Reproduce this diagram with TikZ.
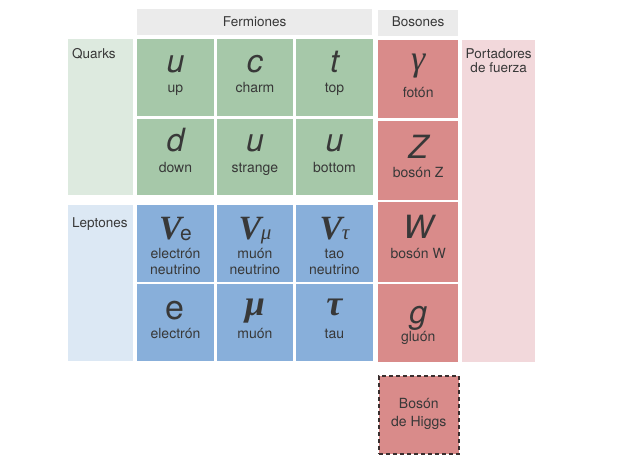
\documentclass[tikz,border=0pt]{standalone}
\usepackage{fontspec}
\setmainfont{TeX Gyre Heros}
\newfontfamily\grkfont{Liberation Serif}
\usetikzlibrary{calc}
\definecolor{qgreen}{HTML}{A6C8A9}
\definecolor{qband}{HTML}{DDEADF}
\definecolor{lblue}{HTML}{88AFDA}
\definecolor{lband}{HTML}{DCE8F4}
\definecolor{bred}{HTML}{D98B8A}
\definecolor{bband}{HTML}{F2D8DB}
\definecolor{hgray}{HTML}{EBEBEB}
\definecolor{txt}{HTML}{383838}
\definecolor{dashc}{HTML}{3A2E2E}
\tikzset{
  box/.style={draw=none, inner sep=0pt, anchor=north west},
  gcell/.style={box, fill=qgreen, minimum width=76.5pt, minimum height=76.5pt},
  bcell/.style={box, fill=lblue, minimum width=76.5pt, minimum height=77pt},
  rcell/.style={box, fill=bred, minimum width=80pt, minimum height=78pt},
  sym/.style={inner sep=0pt, anchor=base, text=txt, font=\fontsize{32}{34}\selectfont\itshape},
  gsym/.style={inner sep=0pt, anchor=base, text=txt, font=\fontsize{34}{36}\selectfont\grkfont\bfseries\itshape},
  lab/.style={inner sep=0pt, anchor=base, text=txt, font=\fontsize{14}{16}\selectfont},
  head/.style={inner sep=0pt, anchor=base, text=txt, font=\fontsize{13.5}{15}\selectfont},
}
\begin{document}
\begin{tikzpicture}[x=1pt,y=-1pt]
\useasboundingbox (0,0) rectangle (630,471);
% headers
\node[box, fill=hgray, minimum width=235pt, minimum height=26pt] (fh) at (137,9) {};
\node[head] (fht) at ($(fh.north)+(0,18)$) {Fermiones};
\node[box, fill=hgray, minimum width=80pt, minimum height=26pt] (bh) at (378,10) {};
\node[head] (bht) at ($(bh.north)+(0,17)$) {Bosones};
% bands
\node[box, fill=qband, minimum width=65pt, minimum height=156pt] (qb) at (68,39) {};
\node[head, anchor=base west] (qbt) at (72,58) {Quarks};
\node[box, fill=lband, minimum width=65pt, minimum height=156pt] (lb) at (68,205) {};
\node[head, anchor=base west] (lbt) at (72,227) {Leptones};
\node[box, fill=bband, minimum width=73pt, minimum height=322pt] (pb) at (462,40) {};
\node[head] (pbt1) at ($(pb.north)+(0,18.5)$) {Portadores};
\node[head] (pbt2) at ($(pb.north)+(0,32)$) {de fuerza};
% quarks
\node[gcell] (u) at (137,39) {};
\node[sym] (us) at ($(u.north)+(0,33)$) {u};
\node[lab] (ul) at ($(u.north)+(0,53)$) {up};
\node[gcell] (c) at (216.5,39) {};
\node[sym] (cs) at ($(c.north)+(0,33)$) {c};
\node[lab] (cl) at ($(c.north)+(0,53)$) {charm};
\node[gcell] (t) at (296,39) {};
\node[sym] (ts) at ($(t.north)+(0,33)$) {t};
\node[lab] (tl) at ($(t.north)+(0,53)$) {top};
\node[gcell] (d) at (137,118.5) {};
\node[sym] (ds) at ($(d.north)+(0,33)$) {d};
\node[lab] (dl) at ($(d.north)+(0,54)$) {down};
\node[gcell] (s) at (216.5,118.5) {};
\node[sym] (ss) at ($(s.north)+(0,33)$) {u};
\node[lab] (sl) at ($(s.north)+(0,54)$) {strange};
\node[gcell] (b) at (296,118.5) {};
\node[sym] (bs) at ($(b.north)+(0,33)$) {u};
\node[lab] (bl) at ($(b.north)+(0,54)$) {bottom};
% leptons
\node[bcell] (ve) at (137,205) {};
\node[gsym] (ves) at ($(ve.north)+(0,34)$) {V\kern-1.5pt\raisebox{-1.5pt}{\fontsize{21}{21}\selectfont\normalfont e}};
\node[lab] (vel1) at ($(ve.north)+(0,53)$) {electrón};
\node[lab] (vel2) at ($(ve.north)+(0,69)$) {neutrino};
\node[bcell] (vm) at (216.5,205) {};
\node[gsym] (vms) at ($(vm.north)+(0,34)$) {V\kern-0.5pt{\fontsize{21}{21}\selectfont\mdseries μ}};
\node[lab] (vml1) at ($(vm.north)+(0,53)$) {muón};
\node[lab] (vml2) at ($(vm.north)+(0,69)$) {neutrino};
\node[bcell] (vt) at (296,205) {};
\node[gsym] (vts) at ($(vt.north)+(0,34)$) {V\kern-0.5pt{\fontsize{21}{21}\selectfont\mdseries τ}};
\node[lab] (vtl1) at ($(vt.north)+(0,53)$) {tao};
\node[lab] (vtl2) at ($(vt.north)+(0,69)$) {neutrino};
\node[bcell] (e) at (137,284) {};
\node[sym, font=\fontsize{34}{36}\selectfont] (es) at ($(e.north)+(0,35)$) {e};
\node[lab] (el) at ($(e.north)+(0,54)$) {electrón};
\node[bcell] (m) at (216.5,284) {};
\node[gsym, font=\fontsize{36}{38}\selectfont\grkfont\bfseries\itshape] (ms) at ($(m.north)+(0,31)$) {μ};
\node[lab] (ml) at ($(m.north)+(0,54)$) {muón};
\node[bcell] (ta) at (296,284) {};
\node[gsym, font=\fontsize{36}{38}\selectfont\grkfont\bfseries\itshape] (tas) at ($(ta.north)+(0,31)$) {τ};
\node[lab] (tal) at ($(ta.north)+(0,54)$) {tau};
% bosons
\node[rcell] (ga) at (378,40) {};
\node[gsym, font=\fontsize{36}{38}\selectfont\grkfont\itshape] (gas) at ($(ga.north)+(0,30)$) {γ};
\node[lab] (gal) at ($(ga.north)+(0,57)$) {fotón};
\node[rcell, minimum height=79pt] (z) at (378,121) {};
\node[sym] (zs) at ($(z.north)+(0,37)$) {Z};
\node[lab] (zl) at ($(z.north)+(0,56)$) {bosón Z};
\node[rcell, minimum height=80pt] (w) at (378,202) {};
\node[sym] (ws) at ($(w.north)+(0,36)$) {W};
\node[lab] (wl) at ($(w.north)+(0,56)$) {bosón W};
\node[rcell] (g) at (378,284) {};
\node[sym] (gs) at ($(g.north)+(0,39)$) {g};
\node[lab] (gl) at ($(g.north)+(0,57)$) {gluón};
% Higgs
\node[box, fill=bred, draw=dashc, line width=1.6pt, dash pattern=on 4pt off 3pt, minimum width=80pt, minimum height=78pt] (h) at (378,375) {};
\node[lab] (hl1) at ($(h.north)+(0,33)$) {Bosón};
\node[lab] (hl2) at ($(h.north)+(0,51)$) {de Higgs};
\end{tikzpicture}
\end{document}
